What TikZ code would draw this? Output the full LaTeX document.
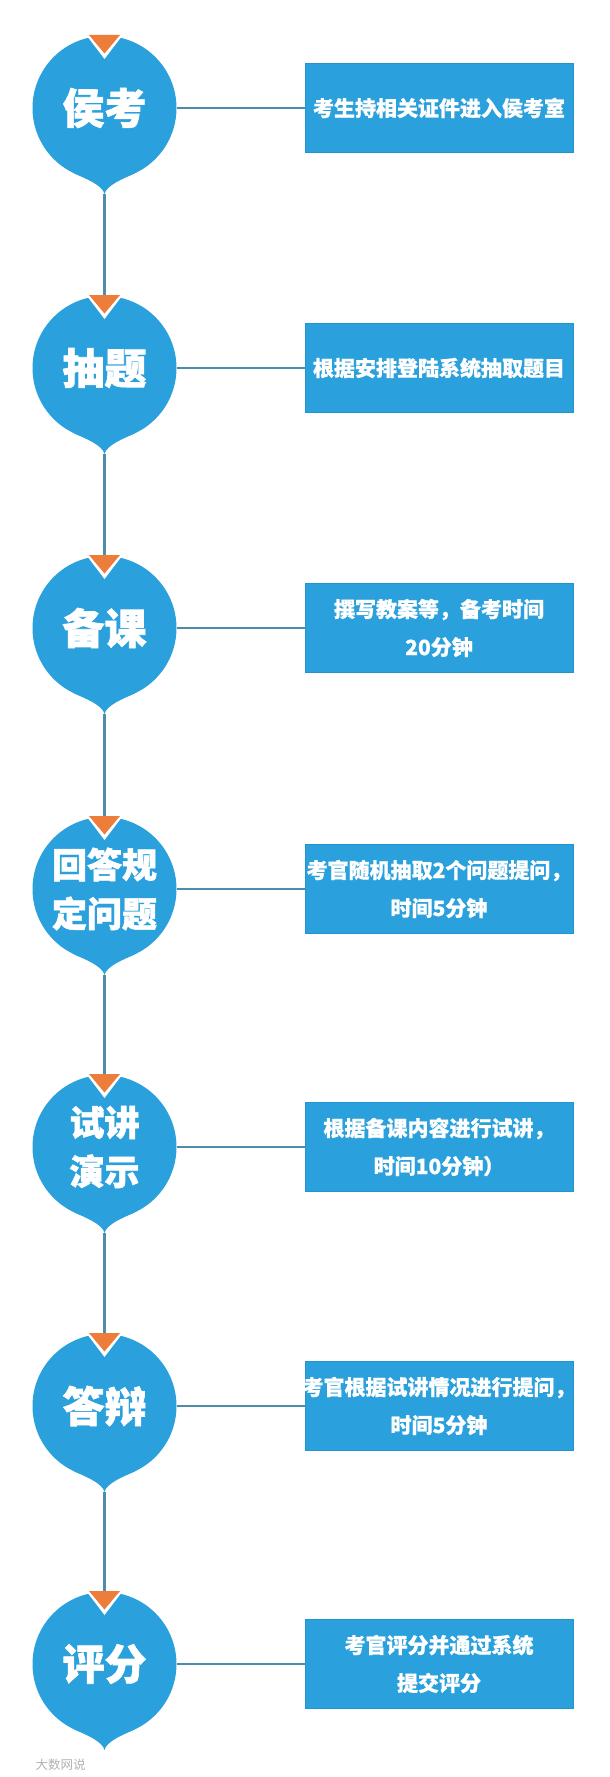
\documentclass[tikz,border=0pt]{standalone}
\usepackage{fontspec}
\setmainfont{Noto Sans CJK SC}
\newfontfamily\heavyfont{Noto Sans CJK SC}[BoldFeatures={FakeBold=1.6}]
\newfontfamily\semiheavy{Noto Sans CJK SC}[BoldFeatures={FakeBold=0.8}]
\usetikzlibrary{calc}
\definecolor{cblue}{RGB}{42,160,220}
\definecolor{cblueedge}{RGB}{34,148,208}
\definecolor{corange}{RGB}{237,125,58}
\definecolor{cline}{RGB}{78,140,170}
\tikzset{
  stepcircle/.style={circle, fill=cblue, minimum size=144pt, inner sep=0pt, text=white,
    font=\heavyfont\bfseries\fontsize{42}{44}\selectfont, align=center},
  steptwo/.style={font=\heavyfont\bfseries\fontsize{35}{49}\selectfont},
  rectbox/.style={rectangle, fill=cblue, draw=cblueedge, line width=0.8pt,
    minimum width=268pt, minimum height=89pt, inner sep=0pt},
  rtext/.style={text=white, font=\semiheavy\bfseries\fontsize{21}{38}\selectfont, align=center, inner sep=0pt},
  conn/.style={draw=cline, line width=2.2pt},
}
\newcommand\drawstep[4]{%
  % #1 name, #2 center y, #3 circle label, #4 circle style
  \begin{scope}[shift={(0,#2)}]
    \fill[cblue] (74.1,65.3) .. controls (85,70.4) and (102.5,77) .. (104.5,86)
      .. controls (106.5,77) and (124,70.4) .. (134.9,65.3) -- (104.5,0) -- cycle;
    \node[stepcircle,#4] (#1) at (104.5,0) {#3};
    \coordinate (#1tip) at (104.5,86);
    \fill[white] (84,-76) -- (125,-76) -- (104.5,-49) -- cycle;
    \fill[corange] (89,-73) -- (120,-73) -- (104.5,-54.5) -- cycle;
    \coordinate (#1in) at (104.5,-73);
  \end{scope}}
\begin{document}
\begin{tikzpicture}[x=1pt,y=-1pt]
\fill[white] (0,0) rectangle (610,1777);
\useasboundingbox (0,0) rectangle (610,1777);

\drawstep{s1}{108}{侯考}{}
\drawstep{s2}{368}{抽题}{}
\drawstep{s3}{628}{备课}{}
\drawstep{s4}{889}{回答规\\定问题}{steptwo}
\drawstep{s5}{1147}{试讲\\演示}{steptwo}
\drawstep{s6}{1406}{答辩}{}
\drawstep{s7}{1664}{评分}{}

\node[rectbox] (r1) at (439,108) {};
\node[rectbox] (r2) at (439,368) {};
\node[rectbox] (r3) at (439,628) {};
\node[rectbox] (r4) at (439,889) {};
\node[rectbox] (r5) at (439,1147) {};
\node[rectbox] (r6) at (439,1406) {};
\node[rectbox] (r7) at (439,1664) {};

\node[rtext] (t1) at (r1) {考生持相关证件进入侯考室};
\node[rtext] (t2) at (r2) {根据安排登陆系统抽取题目};
\node[rtext] (t3) at (r3) {撰写教案等，备考时间\\20分钟};
\node[rtext] (t4) at (r4) {考官随机抽取2个问题提问，\\时间5分钟};
\node[rtext] (t5) at (r5) {根据备课内容进行试讲，\\时间10分钟）};
\node[rtext] (t6) at (r6) {考官根据试讲情况进行提问，\\时间5分钟};
\node[rtext] (t7) at (r7) {考官评分并通过系统\\提交评分};

\foreach \i in {1,...,7} {
  \draw[conn] (s\i.east) -- (r\i.west);
}
\foreach \i/\j in {1/2,2/3,3/4,4/5,5/6,6/7} {
  \draw[conn] (s\i tip) -- (s\j in);
}

\node[text=black!30, font=\fontsize{12.5}{14}\selectfont, anchor=west] (wm) at (32,1765) {大数网说};
\end{tikzpicture}
\end{document}
